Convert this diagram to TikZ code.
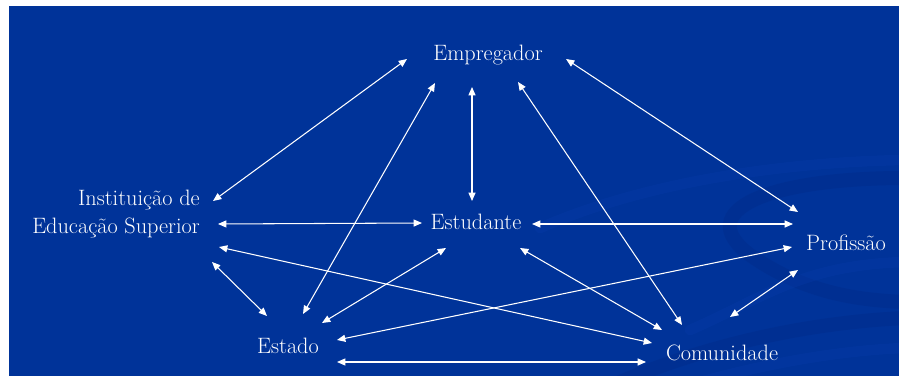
\documentclass[tikz,border=0pt]{standalone}
\usepackage{tikz}
\usetikzlibrary{arrows.meta,calc}
\definecolor{fondo}{HTML}{003399}
\definecolor{fondoosc}{HTML}{002A85}
\definecolor{fondoclaro}{HTML}{083CAA}
\tikzset{
  actor/.style={text=white,font=\fontsize{19}{24}\selectfont,inner sep=0pt},
  flecha/.style={draw=white,line width=0.9pt,{Triangle[length=2.5mm,width=2.1mm]}-{Triangle[length=2.5mm,width=2.1mm]}},
  onda/.style={line width=12pt,draw=fondoosc,opacity=0.35,line cap=round},
  ondaclara/.style={line width=9pt,draw=fondoclaro,opacity=0.3,line cap=round},
}

\begin{document}
\begin{tikzpicture}[x=0.03cm,y=-0.03cm]
  \useasboundingbox (0,0) rectangle (899,376);
  \fill[fondo] (9,6) rectangle (899,376);
  \begin{scope}
    \clip (9,6) rectangle (899,376);
    \draw[ondaclara] (540,228) .. controls (650,180) and (790,162) .. (905,160);
    \draw[onda] (905,178) .. controls (770,178) and (690,210) .. (750,255) .. controls (800,290) and (850,300) .. (905,302);
    \draw[ondaclara] (905,262) .. controls (800,265) and (760,300) .. (690,330);
    \draw[onda] (620,382) .. controls (720,340) and (820,322) .. (905,318);
    \draw[ondaclara] (700,382) .. controls (780,360) and (850,350) .. (905,348);
  \end{scope}

  \node[actor] (emp) at (488,55) {Empregador};
  \node[actor] (stu) at (476,222) {Estudante};
  \node[actor,align=right] (ies) at (116,214) {Institui\c{c}\~ao de\\Educa\c{c}\~ao Superior};
  \node[actor] (prof) at (846,243) {Profiss\~ao};
  \node[actor] (est) at (288,346) {Estado};
  \node[actor] (com) at (722,353) {Comunidade};

  \draw[flecha] ($(ies)+(97,-13)$) -- ($(emp)+(-81,4)$);
  \draw[flecha] ($(est)+(15,-32)$) -- ($(emp)+(-53,28)$);
  \draw[flecha] ($(emp)+(-16,32)$) -- ($(stu)+(-4,-21)$);
  \draw[flecha] ($(emp)+(30,27)$) -- ($(com)+(-40,-28)$);
  \draw[flecha] ($(emp)+(78,4)$) -- ($(prof)+(-48,-31)$);
  \draw[flecha] ($(ies)+(102,10)$) -- ($(stu)+(-54,1)$);
  \draw[flecha] ($(stu)+(56,2)$) -- ($(prof)+(-53,-19)$);
  \draw[flecha] ($(ies)+(103,33)$) -- ($(com)+(-70,-10)$);
  \draw[flecha] ($(ies)+(96,48)$) -- ($(est)+(-21,-30)$);
  \draw[flecha] ($(stu)+(-30,26)$) -- ($(est)+(34,-23)$);
  \draw[flecha] ($(stu)+(44,26)$) -- ($(com)+(-60,-23)$);
  \draw[flecha] ($(est)+(49,-6)$) -- ($(prof)+(-54,4)$);
  \draw[flecha] ($(prof)+(-48,27)$) -- ($(com)+(8,-36)$);
  \draw[flecha] ($(est)+(49,16)$) -- ($(com)+(-76,9)$);
\end{tikzpicture}
\end{document}
